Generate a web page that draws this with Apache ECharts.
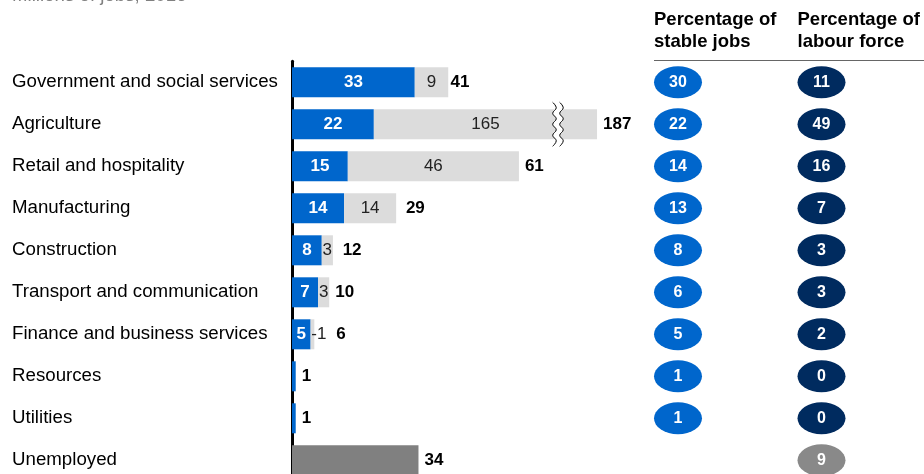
<!DOCTYPE html>
<html><head><meta charset="utf-8">
<script src="https://cdn.jsdelivr.net/npm/echarts@6/dist/echarts.min.js"></script>
<style>html,body{margin:0;padding:0;background:#fff;overflow:hidden}#c{width:924px;height:520px}</style>
</head><body><div id="c"></div>
<script>
// ---- data ----
const subtitle = 'Millions of jobs, 2016';
const categories = ['Government and social services','Agriculture','Retail and hospitality','Manufacturing','Construction','Transport and communication','Finance and business services','Resources','Utilities','Unemployed'];
const stableJobs = [33,22,15,14,8,7,5,1,1,null];
const otherJobs  = [9,165,46,14,3,3,1,0,0,null];
const totalJobs  = [41,187,61,29,12,10,6,1,1,null];
const unemployed = [null,null,null,null,null,null,null,null,null,34];
const pctStableJobs  = [30,22,14,13,8,6,5,1,1,null];
const pctLabourForce = [11,49,16,7,3,3,2,0,0,9];
const headerStable = 'Percentage of\nstable jobs';
const headerLabour = 'Percentage of\nlabour force';
// axis-break settings (display only)
const brokenBarCap = 82;
const breakMarkAt = 71.5;

// ---- styling ----
const FONT = '"Liberation Sans", Arial, Helvetica, sans-serif';
const BLUE = '#0066CC', NAVY = '#002B5F', LIGHT = '#DCDCDC', GREY = '#808080', GREYB = '#898989';
const GRID_TOP = 61.3, GRID_H = 420;

const otherDisplay = otherJobs.map((v,i)=> v==null?null:Math.min(v, brokenBarCap - stableJobs[i]));
const totalShown = categories.map((c,i)=> totalJobs[i]!=null ? totalJobs[i] : unemployed[i]);
const totalDisplay = totalShown.map(v=> Math.min(v, brokenBarCap));

const chart = echarts.init(document.getElementById('c'), null, {renderer:'canvas'});

function catAxis(gi, showLabels){
  return {
    type:'category', data:categories, inverse:true, gridIndex:gi,
    offset: showLabels?1.5:0,
    axisLine:{show:showLabels, lineStyle:{color:'#000', width:3}},
    axisTick:{show:false},
    axisLabel:{show:showLabels, align:'left', margin:278.5, fontSize:18.7, color:'#000', fontFamily:FONT},
    splitLine:{show:false}
  };
}
function valAxis(gi, max){
  return {type:'value', gridIndex:gi, min:0, max:max, show:false, splitLine:{show:false}};
}

const option = {
  animation:false,
  textStyle:{fontFamily:FONT},
  grid:[
    {left:292, top:GRID_TOP, width:372, height:GRID_H, containLabel:false},
    {left:654, top:GRID_TOP, width:48, height:GRID_H},
    {left:797.5, top:GRID_TOP, width:48, height:GRID_H}
  ],
  xAxis:[valAxis(0,100), valAxis(1,1), valAxis(2,1)],
  yAxis:[catAxis(0,true), catAxis(1,false), catAxis(2,false)],
  graphic:[
    {type:'text', x:12, y:-4.5, style:{text:subtitle, fill:'#808080', fontSize:18.7, fontFamily:FONT, verticalAlign:'middle'}},
    {type:'text', x:654, y:9, style:{text:headerStable, fill:'#000', fontSize:18.5, fontWeight:'bold', fontFamily:FONT, lineHeight:22, verticalAlign:'top'}},
    {type:'text', x:797.5, y:9, style:{text:headerLabour, fill:'#000', fontSize:18.5, fontWeight:'bold', fontFamily:FONT, lineHeight:22, verticalAlign:'top'}},
    {type:'line', shape:{x1:654, y1:60.5, x2:924, y2:60.5}, style:{stroke:'#666', lineWidth:1}}
  ],
  series:[
    {
      name:'Stable jobs', type:'bar', stack:'jobs', xAxisIndex:0, yAxisIndex:0,
      barWidth:30, barGap:'-100%', itemStyle:{color:BLUE},
      label:{show:true, position:'inside', color:'#fff', fontWeight:'bold', fontSize:17,
        formatter:p=> (p.value!=null && p.value>=5) ? String(p.value) : ''},
      data:stableJobs
    },
    {
      name:'Other jobs', type:'bar', stack:'jobs', xAxisIndex:0, yAxisIndex:0,
      barWidth:30, barGap:'-100%', itemStyle:{color:LIGHT},
      label:{show:true, position:'inside', color:'#222', fontSize:17,
        formatter:p=> { const v = otherJobs[p.dataIndex]; return (v && v>=2) ? String(v) : ''; }},
      data:otherDisplay.map((v,i)=> (otherJobs[i]===1) ? {value:v, label:{position:'right', distance:-3, formatter:'-' + otherJobs[i]}} : v)
    },
    {
      name:'Unemployed', type:'bar', stack:'jobs', xAxisIndex:0, yAxisIndex:0,
      barWidth:30, barGap:'-100%', itemStyle:{color:GREY},
      label:{show:false},
      data:unemployed
    },
    {
      name:'Total', type:'bar', xAxisIndex:0, yAxisIndex:0, silent:true, z:1,
      barWidth:30, barGap:'-100%', itemStyle:{color:'rgba(0,0,0,0)'},
      label:{show:true, position:'right', distance:6, color:'#000', fontWeight:'bold', fontSize:17,
        formatter:p=> String(totalShown[p.dataIndex])},
      data:totalDisplay.map((v,i)=> (otherJobs[i]===1) ? {value:v, label:{distance:22}} : v)
    },
    {
      name:'Break', type:'custom', xAxisIndex:0, yAxisIndex:0, z:5, silent:true,
      data:[[breakMarkAt, categories.indexOf('Agriculture')]],
      renderItem:(params, api)=>{
        const c = api.coord([api.value(0), api.value(1)]);
        const h = 44, n = 8, amp = 1.8, gap = 7;
        const left = [], right = [];
        for(let i=0;i<=n;i++){
          const y = c[1] - h/2 + i*h/n;
          const dx = (i%2===0 ? -amp : amp);
          left.push([c[0] - gap/2 + dx, y]);
          right.push([c[0] + gap/2 + dx, y]);
        }
        return {type:'group', children:[
          {type:'polygon', shape:{points:left.concat(right.slice().reverse()), smooth:0.4}, style:{fill:'#fff'}},
          {type:'polyline', shape:{points:left, smooth:0.4}, style:{stroke:'#000', lineWidth:1, fill:null}},
          {type:'polyline', shape:{points:right, smooth:0.4}, style:{stroke:'#000', lineWidth:1, fill:null}}
        ]};
      }
    },
    {
      name:'Percentage of stable jobs', type:'scatter', xAxisIndex:1, yAxisIndex:1,
      symbol:'circle', symbolSize:[48,32], itemStyle:{color:BLUE, opacity:1},
      label:{show:true, position:'inside', color:'#fff', fontWeight:'bold', fontSize:16, formatter:p=>String(p.value[2])},
      data:pctStableJobs.map((v,i)=> v==null ? null : [0.5, i, v])
    },
    {
      name:'Percentage of labour force', type:'scatter', xAxisIndex:2, yAxisIndex:2,
      symbol:'circle', symbolSize:[48,32], itemStyle:{color:NAVY, opacity:1},
      label:{show:true, position:'inside', color:'#fff', fontWeight:'bold', fontSize:16, formatter:p=>String(p.value[2])},
      data:pctLabourForce.map((v,i)=> v==null ? null : (categories[i]==='Unemployed' ? {value:[0.5,i,v], itemStyle:{color:GREYB}} : [0.5, i, v]))
    }
  ]
};
chart.setOption(option);
</script></body></html>
